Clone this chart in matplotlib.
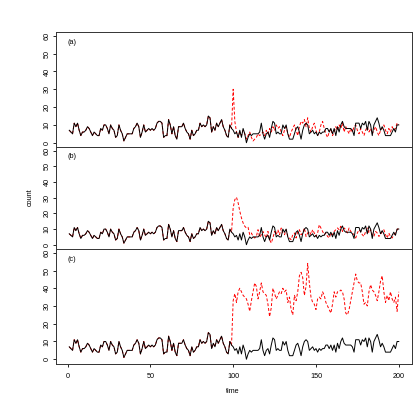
import numpy as np
import matplotlib
matplotlib.use('Agg')
import matplotlib.pyplot as plt

plt.rcParams['font.family'] = ['Liberation Sans', 'DejaVu Sans']

# observed counts, t = 1..200
black = [7,6,5,11,9,11,7,4,6,6,
         7,9,8,6,4,6,5,4,4,8,
         7,10,10,8,5,10,8,7,3,4,
         10,7,5,1,3,5,5,5,5,8,
         9,11,9,3,6,10,6,7,8,7,
         8,7,8,11,12,12,11,3,4,4,
         13,10,5,9,4,2,9,9,9,11,
         8,6,5,2,7,4,5,7,7,11,
         9,10,9,10,15,14,6,9,7,11,
         9,11,13,9,7,4,3,10,8,7,
         5,6,3,7,3,8,5,0,3,5,
         4,5,5,5,5,6,11,5,2,5,
         6,3,8,12,11,5,6,5,5,10,
         8,10,5,2,2,2,5,8,9,6,
         2,7,10,11,10,5,6,7,5,6,
         4,6,5,6,6,8,8,6,8,5,
         8,4,9,6,10,12,9,8,8,8,
         8,7,4,11,11,11,8,11,10,12,
         7,12,10,4,10,12,14,11,7,9,
         7,4,4,4,4,6,8,6,10,10]

# simulated counts after intervention, t = 100..200
red_a = [30,12,6,3,6,4,7,5,2,4,
         6,3,1,2,3,5,4,5,6,4,
         7,5,8,6,9,7,10,8,9,6,
         4,7,9,5,3,6,8,10,7,4,
         9,12,11,13,9,14,8,6,9,11,
         7,4,6,10,12,8,5,3,6,8,
         4,6,9,7,10,8,11,6,9,7,
         5,8,6,9,10,7,5,8,6,4,
         7,9,6,8,5,7,9,6,4,7,
         8,10,7,5,8,6,9,7,8,11,10]
red_b = [23.5,28.8,30.3,26.7,21.4,17.1,13.9,11.8,10.7,11.1,
         6.4,7.5,5.3,4.3,5.3,9.6,4.7,6.4,8.5,6.4,
         4.3,8.5,3.2,1.1,4.3,8.5,6.4,9.6,6.4,10.7,
         7.5,6.4,9.6,5.3,4.3,3.2,6.4,7.5,4.3,8.5,
         9.6,6.4,7.5,10.7,5.3,7.5,8.5,6.4,9.6,7.5,
         5.3,7.5,12.8,10.7,8.5,6.4,7.5,5.3,4.3,7.5,
         6.4,8.5,9.6,10.7,9.6,11.8,8.5,10.7,9.6,7.5,
         10.7,8.5,7.5,6.4,4.3,7.5,9.6,8.5,6.4,5.3,
         8.5,10.7,7.5,9.6,6.4,5.3,8.5,7.5,5.3,6.4,
         8.5,9.6,6.4,4.3,7.5,5.3,4.3,6.4,7.5,9.6,10.7]
red_c = [33,37,32,38,40,38,36,35,34,31,
         27,33,38,43,41,34,38,43,38,37,
         36,31,24,29,40,37,34,36,38,37,
         40,38,39,32,35,28,25,36,33,38,
         47,49,46,36,41,54,43,35,32,31,
         28,34,35,34,38,36,32,30,28,26,
         31,38,35,38,38,39,38,34,26,25,
         28,33,38,43,48,44,43,43,38,31,
         32,30,38,42,39,38,36,33,38,44,
         47,38,32,36,33,38,34,32,35,27,38]

panel_labels = ['(a)', '(b)', '(c)']

t = np.arange(1, 201)
black = np.array(black, dtype=float)

W = 420.0
left, right = 56 / W, 412 / W
# panel boxes in pixels from top: (top, bottom)
boxes = [(31.6, 147.0), (147.0, 248.5), (248.5, 363.5)]

fig = plt.figure(figsize=(4.2, 4.2), dpi=100)
fs = 5.2
for k, red in enumerate([red_a, red_b, red_c]):
    top, bot = boxes[k]
    ax = fig.add_axes([left, 1 - bot / W, right - left, (bot - top) / W])
    full = np.concatenate([black[:99], np.array(red, dtype=float)])
    ax.plot(t, full, color='red', lw=0.7, dashes=(3, 2))
    ax.plot(t, black, color='black', lw=0.7)
    ax.set_xlim(-7, 208)
    ax.set_ylim(-2.4, 62.4)
    ax.set_yticks(range(0, 61, 10))
    ax.tick_params(axis='y', labelsize=fs, length=2.5, width=0.6, pad=1.5,
                   labelrotation=90)
    for lab in ax.get_yticklabels():
        lab.set_va('center')
    if k < 2:
        ax.set_xticks([])
    else:
        ax.set_xticks(range(0, 201, 50))
        ax.tick_params(axis='x', labelsize=fs, length=2.5, width=0.6, pad=4)
    for s in ax.spines.values():
        s.set_linewidth(0.7)
        s.set_color('#333333')
    ax.text(0.032, 0.905, panel_labels[k], transform=ax.transAxes,
            fontsize=fs, ha='left', va='center')

fig.text(30 / W, 1 - 197 / W, 'count', rotation=90, fontsize=fs,
         ha='center', va='center')
fig.text(233 / W, 1 - 391.5 / W, 'time', fontsize=fs, ha='center', va='center')

fig.savefig('out.png', dpi=100)
